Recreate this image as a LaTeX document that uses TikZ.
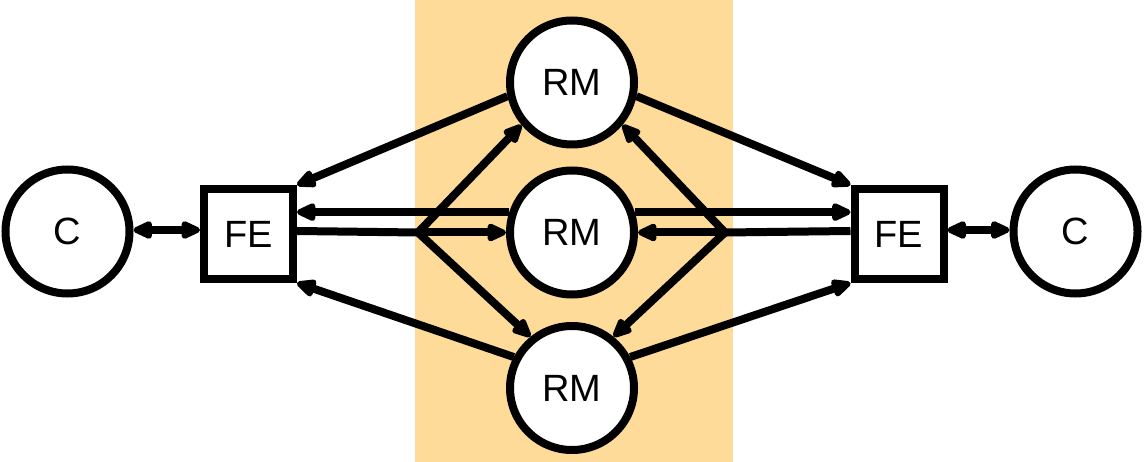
\documentclass[tikz,border=0pt]{standalone}
\usepackage{fontspec}
\setmainfont{Liberation Sans}
\usetikzlibrary{arrows.meta}
\definecolor{bgorange}{RGB}{255,219,153}
\begin{document}
\begin{tikzpicture}[x=1pt,y=-1pt,
  every node/.style={font=\fontsize{38}{40}\selectfont},
  circ/.style={circle,draw,line width=8pt,fill=white,minimum size=124pt,inner sep=0pt},
  febox/.style={rectangle,draw,line width=8pt,fill=white,minimum width=89pt,minimum height=90pt,inner sep=0pt},
  conn/.style={line width=8pt,line join=round},
  tip/.style={Triangle[length=23pt,width=19pt,round]},
  arr/.style={conn,-{Triangle[length=23pt,width=19pt,round]}},
  arrb/.style={conn,{Triangle[length=23pt,width=19pt,round]}-{Triangle[length=23pt,width=19pt,round]}}]
\useasboundingbox (0,0) rectangle (1145,462);
\fill[bgorange] (415,0) rectangle (733,462);
\node[circ] (cL) at (67.5,231.5) {C};
\node[circ] (cR) at (1075.5,231.5) {C};
\node[febox] (feL) at (248.5,234) {FE};
\node[febox] (feR) at (899,234) {FE};
\node[circ] (rmT) at (572,82.5) {RM};
\node[circ] (rmM) at (572,232.5) {RM};
\node[circ] (rmB) at (572,388) {RM};
\coordinate (bl) at (418,232.5);
\coordinate (br) at (725,232.5);
% client links
\draw[arrb] (cL.east |- 0,230) -- (feL.west |- 0,230);
\draw[arrb] (feR.east |- 0,230) -- (cR.west |- 0,230);
% RM to FE
\draw[arr] (rmT.192) -- (feL.north east);
\draw[arr] (rmB.152) -- (feL.south east);
\draw[arr] (rmM.162) -- (rmM.162 -| feL.east);
\draw[arr] (rmT.348) -- (feR.north west);
\draw[arr] (rmB.28) -- (feR.south west);
\draw[arr] (rmM.18) -- (rmM.18 -| feR.west);
% FE to RM via branch points
\draw[conn] (feL.east |- 0,231) -- (bl);
\draw[arr] (bl) -- (rmM.west);
\draw[arr] (bl) -- (rmT.220);
\draw[arr] (bl) -- (rmB.129);
\draw[conn] (feR.west |- 0,231) -- (br);
\draw[arr] (br) -- (rmM.east);
\draw[arr] (br) -- (rmT.320);
\draw[arr] (br) -- (rmB.51);
\end{tikzpicture}
\end{document}
